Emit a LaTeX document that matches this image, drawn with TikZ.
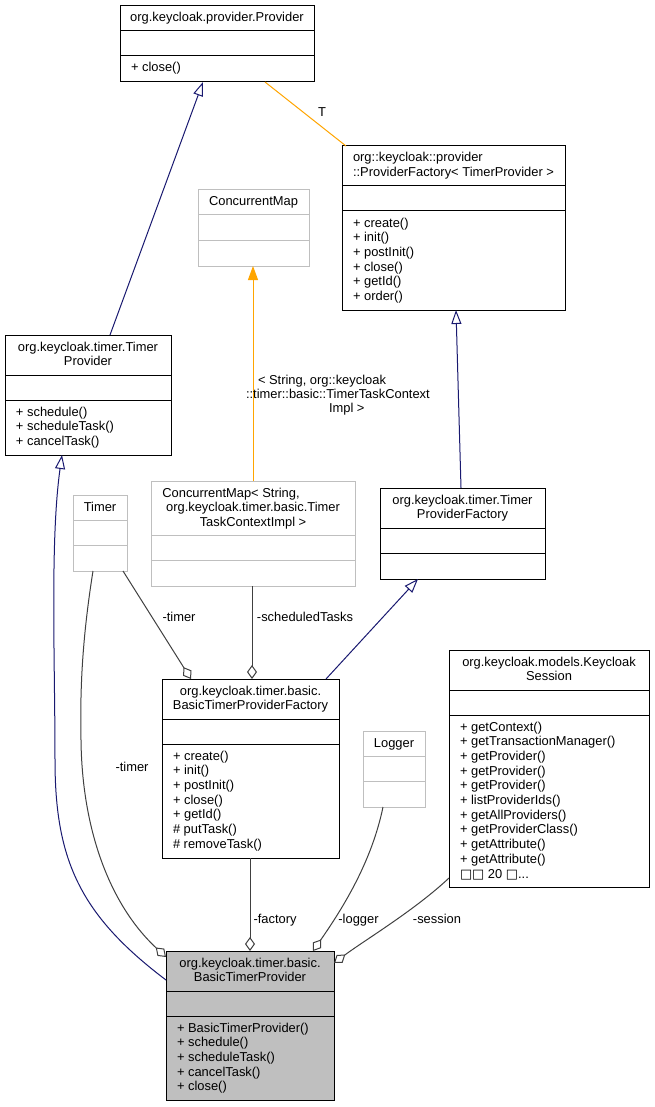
\documentclass[tikz,border=0pt]{standalone}
\usepackage{fontspec}
\setmainfont{Liberation Sans}
\newfontfamily\dejavu{DejaVu Sans}
\usetikzlibrary{arrows.meta,calc}
\definecolor{navy}{HTML}{191970}
\definecolor{gline}{HTML}{404040}
\definecolor{gbox}{HTML}{BFBFBF}
\definecolor{orng}{HTML}{FFA500}
\tikzset{
  every node/.style={font=\fontsize{12.9}{14.7}\selectfont, inner sep=0pt, outer sep=0pt},
  clsbox/.style={draw=black, line width=1pt, fill=white},
  extbox/.style={draw=gbox, line width=1pt, fill=white},
  curbox/.style={draw=black, line width=1pt, fill=gbox},
  ttl/.style={align=center},
  inherit/.style={draw=navy, line width=1pt, -{Triangle[open, length=14pt, width=10pt]}},
  aggr/.style={draw=gline, line width=1pt, -{Diamond[open, length=14pt, width=10pt]}},
  tmpl/.style={draw=orng, line width=1pt},
  tmplarr/.style={draw=orng, line width=1pt, -{Triangle[length=14pt, width=10pt]}},
  elabel/.style={anchor=base},
}
\newcommand\umlclass[9]{%
  \node[#2, anchor=north west, minimum width={#5-#3}, minimum height={#6-#4}] (#1) at (#3,#4) {};
  \draw[#2] (#3,{#4+#7}) -- (#5,{#4+#7});
  \draw[#2] (#3,{#4+#7+25}) -- (#5,{#4+#7+25});
  \node[anchor=north, ttl] (#1-t) at ({(#3+#5)/2},{#4+4}) {\rule{0pt}{12pt}#8};
  \if\relax\detokenize{#9}\relax\else
  \node[anchor=north west, align=left] (#1-m) at ({#3+11},{#4+#7+29}) {\rule{0pt}{12pt}#9};
  \fi
}
\begin{document}
\begin{tikzpicture}[x=1pt,y=-1pt]
\path[fill=white, use as bounding box] (0,0) rectangle (655,1107);

\umlclass{prov}{clsbox}{120}{6}{314}{82}{25}{org.keycloak.provider.Provider}{+ close()}
\umlclass{cmap}{extbox}{198}{190}{309}{266}{25}{ConcurrentMap}{}
\begin{scope}[ttl/.style={align=left}]
\umlclass{pf}{clsbox}{342}{146}{565}{310}{40}{org::keycloak::provider\\::ProviderFactory< TimerProvider >}{+ create()\\+ init()\\+ postInit()\\+ close()\\+ getId()\\+ order()}
\end{scope}
\umlclass{tp}{clsbox}{5}{335}{171}{455}{40}{org.keycloak.timer.Timer\\Provider}{+ schedule()\\+ scheduleTask()\\+ cancelTask()}
\umlclass{timer}{extbox}{73}{495}{127}{571}{25}{Timer}{}
\umlclass{cmb}{extbox}{151}{481}{355}{586}{54}{ConcurrentMap< String,\hspace*{44pt}\\org.keycloak.timer.basic.Timer\\TaskContextImpl >}{}
\umlclass{tpf}{clsbox}{380}{488}{545}{579}{40}{org.keycloak.timer.Timer\\ProviderFactory}{}
\umlclass{ks}{clsbox}{449}{650}{649}{887}{40}{org.keycloak.models.Keycloak\\Session}{+ getContext()\\+ getTransactionManager()\\+ getProvider()\\+ getProvider()\\+ getProvider()\\+ listProviderIds()\\+ getAllProviders()\\+ getProviderClass()\\+ getAttribute()\\+ getAttribute()\\{\dejavu □□} 20 {\dejavu □}...}
\umlclass{logger}{extbox}{363}{731}{425}{807}{25}{Logger}{}
\umlclass{btpf}{clsbox}{162}{679}{339}{858}{40}{org.keycloak.timer.basic.\\BasicTimerProviderFactory}{+ create()\\+ init()\\+ postInit()\\+ close()\\+ getId()\\\# putTask()\\\# removeTask()}
\umlclass{btp}{curbox}{166}{951}{334}{1100}{40}{org.keycloak.timer.basic.\\BasicTimerProvider}{+ BasicTimerProvider()\\+ schedule()\\+ scheduleTask()\\+ cancelTask()\\+ close()}

% connectors
\draw[inherit] ([xshift=105pt]tp.north west) -- ([xshift=83pt]prov.south west);
\draw[tmpl] ([xshift=4pt]pf.north west) -- ([xshift=145pt]prov.south west);
\draw[inherit] ([xshift=81pt]tpf.north west) -- ([xshift=114pt]pf.south west);
\draw[tmplarr] ([xshift=102pt]cmb.north west) -- ([xshift=55pt]cmap.south west);
\draw[inherit] ([yshift=-29pt]btp.north west) .. controls (80,915) and (55,860) .. (55,760) .. controls (55,660) and (50,540) .. ([xshift=57pt]tp.south west);
\draw[aggr] ([xshift=20pt]timer.south west) .. controls (82,640) and (80,690) .. (81,740) .. controls (82,830) and (110,905) .. ([yshift=-6pt]btp.north west);
\draw[aggr] ([xshift=50pt]timer.south west) -- ([xshift=29pt]btpf.north west);
\draw[aggr] ([xshift=101pt]cmb.south west) -- ([xshift=90pt]btpf.north west);
\draw[inherit] ([xshift=164pt]btpf.north west) -- ([xshift=38pt]tpf.south west);
\draw[aggr] ([xshift=88pt]btpf.south west) -- ([xshift=84pt]btp.north west);
\draw[aggr] ([xshift=20pt]logger.south west) .. controls (372,860) and (345,905) .. ([xshift=147pt]btp.north west);
\draw[aggr] ([yshift=-228pt]ks.north west) .. controls (415,910) and (365,940) .. ([yshift=-12pt]btp.north east);

% labels
\node[elabel] (lT) at (322,117) {T};
\node[anchor=north west, align=left, font=\fontsize{12.9}{14}\selectfont] (lcm) at (246,372.5) {\rule{0pt}{12pt}\hspace*{12pt}< String, org::keycloak\\::timer::basic::TimerTaskContext\\\hspace*{83pt}Impl >};
\node[elabel] (lt1) at (179,621.5) {-timer};
\node[elabel] (lst) at (305,621.5) {-scheduledTasks};
\node[elabel] (lt2) at (132,771.5) {-timer};
\node[elabel] (lf) at (275,923.5) {-factory};
\node[elabel] (ll) at (358.5,923.5) {-logger};
\node[elabel] (ls) at (437,923.5) {-session};
\end{tikzpicture}
\end{document}
